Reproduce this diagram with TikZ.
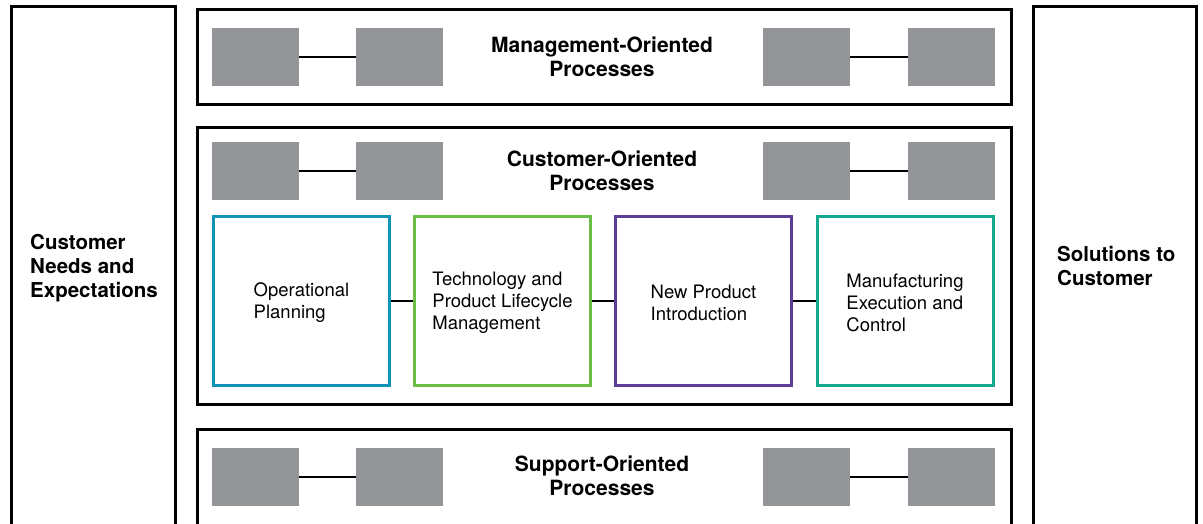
\documentclass[tikz,border=0pt]{standalone}
\usepackage{fontspec}
\setmainfont{TeX Gyre Heros}
\definecolor{greybox}{HTML}{939598}
\definecolor{cblue}{HTML}{1192B8}
\definecolor{cgreen}{HTML}{6ABD45}
\definecolor{cpurple}{HTML}{5C3E98}
\definecolor{cteal}{HTML}{13A98F}
\begin{document}
\begin{tikzpicture}[x=1pt,y=-1pt,
  outer/.style={draw=black,line width=3pt},
  gbox/.style={fill=greybox,draw=none,minimum width=87pt,minimum height=58pt,inner sep=0pt},
  link/.style={line width=2.8pt},
  title/.style={font=\bfseries\fontsize{21}{24}\selectfont,align=center,inner sep=0pt},
  side/.style={font=\bfseries\fontsize{20.5}{24}\selectfont,align=left,inner sep=0pt,anchor=west},
  cbox/.style={draw=#1,line width=3pt,minimum width=176pt,minimum height=169pt,inner sep=0pt},
  ctext/.style={font=\fontsize{18.5}{22}\selectfont,align=left,inner sep=0pt,yshift=-2pt}]
\useasboundingbox (0,0) rectangle (1203,523);
\clip (0,0) rectangle (1203,523);
% side boxes
\draw[outer] (11.5,540) -- (11.5,6.5) -- (175.5,6.5) -- (175.5,540);
\draw[outer] (1033.5,540) -- (1033.5,6.5) -- (1196.5,6.5) -- (1196.5,540);
\node[side] (needs) at (30,268) {Customer\\Needs and\\Expectations};
\node[side] (sol) at (1057,266) {Solutions to\\Customer};
% process bands
\draw[outer] (197.5,9.5) rectangle (1011.5,104.5);
\draw[outer] (197.5,127) rectangle (1011.5,404.5);
\draw[outer] (197.5,540) -- (197.5,429) -- (1011.5,429) -- (1011.5,540);
\node[title] (mgt) at (602,57) {Management-Oriented\\Processes};
\node[title] (cust) at (602,171) {Customer-Oriented\\Processes};
\node[title] (sup) at (602,476) {Support-Oriented\\Processes};
% grey boxes
\foreach \n/\y in {a/57,b/171,c/477}{
  \node[gbox] (\n1) at (255.5,\y) {};
  \node[gbox] (\n2) at (399.5,\y) {};
  \node[gbox] (\n3) at (806.5,\y) {};
  \node[gbox] (\n4) at (951.5,\y) {};
  \draw[link] (\n1) -- (\n2);
  \draw[link] (\n3) -- (\n4);
}
% coloured process boxes
\node[cbox=cblue] (op) at (301.5,301) {};
\node[cbox=cgreen] (tech) at (502.5,301) {};
\node[cbox=cpurple] (npi) at (703.5,301) {};
\node[cbox=cteal] (mfg) at (905,301) {};
\node[ctext] (opt) at (op.center) {Operational\\Planning};
\node[ctext] (techt) at (tech.center) {Technology and\\Product Lifecycle\\Management};
\node[ctext] (npit) at (npi.center) {New Product\\Introduction};
\node[ctext] (mfgt) at (mfg.center) {Manufacturing\\Execution and\\Control};
\draw[link] (op) -- (tech);
\draw[link] (tech) -- (npi);
\draw[link] (npi) -- (mfg);
\end{tikzpicture}
\end{document}
